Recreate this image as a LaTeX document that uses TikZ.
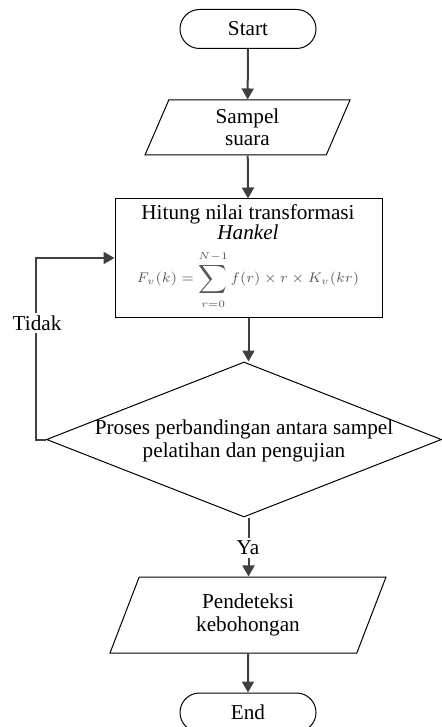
\documentclass[tikz,border=0pt]{standalone}
\usepackage{fontspec}
\setmainfont{Liberation Serif}
\usetikzlibrary{arrows.meta,shapes.geometric,shapes.misc}

\begin{document}
\begin{tikzpicture}[x=0.5pt,y=-0.5pt,
    font=\fontsize{10.6}{11.2}\selectfont,
    every node/.style={align=center},
    terminal/.style={draw,rounded rectangle,line width=0.5pt,minimum width=68pt,minimum height=19.5pt,inner sep=0pt},
    io/.style={draw,trapezium,trapezium stretches body,line width=0.5pt,inner sep=0pt},
    proses/.style={draw,rectangle,line width=0.5pt,minimum width=133.5pt,minimum height=59pt,inner sep=0pt},
    cabang/.style={draw,diamond,line width=0.5pt,minimum width=197.5pt,minimum height=77.5pt,inner sep=0pt},
    alur/.style={line width=1pt,draw=black!75,-{Triangle[length=5.5pt,width=6pt]}},
    label/.style={fill=white,inner sep=1.5pt}]
  \useasboundingbox (0,0) rectangle (441,727);

  \node[terminal] (start) at (248,29) {Start};
  \node[io,trapezium left angle=57.5,trapezium right angle=122.5,
    minimum width=102.5pt,minimum height=27.5pt] (sampel) at (247.5,127.5) {Sampel\\suara};
  \node[proses] (hitung) at (248.5,258) {};
  \node[inner sep=0pt] (judul) at (248,222) {Hitung nilai transformasi\\[-1.5pt]\textit{Hankel}};
  \node[text=black!65,inner sep=0pt] (rumus) at (248,280)
    {\fontsize{7.2}{8}\selectfont$\displaystyle F_v(k)=\sum_{r=0}^{N-1} f(r)\times r\times K_v(kr)$};
  \node[cabang] (cek) at (244,439.5) {};
  \node (teks) at (244,441) {Proses perbandingan antara sampel\\pelatihan dan pengujian};
  \node[io,trapezium left angle=55,trapezium right angle=125,
    minimum width=138pt,minimum height=38pt] (deteksi) at (248,615) {Pendeteksi\\kebohongan};
  \node[terminal] (end) at (248,712.5) {End};
  \coordinate (kiri) at (36,258);

  \draw[alur] (start) -- (sampel);
  \draw[alur] (sampel) -- (hitung);
  \draw[alur] (hitung.south) -- (hitung.south |- cek.north);
  \draw[alur] (cek.west) -| (kiri) -- (hitung.west);
  \draw[alur] (hitung.south |- cek.south) -- (deteksi.north -| hitung.south);
  \draw[alur] (deteksi) -- (end);

  \node[label] (tidak) at (37,323) {Tidak};
  \node[label] (ya) at (248,548) {Ya};
\end{tikzpicture}
\end{document}
